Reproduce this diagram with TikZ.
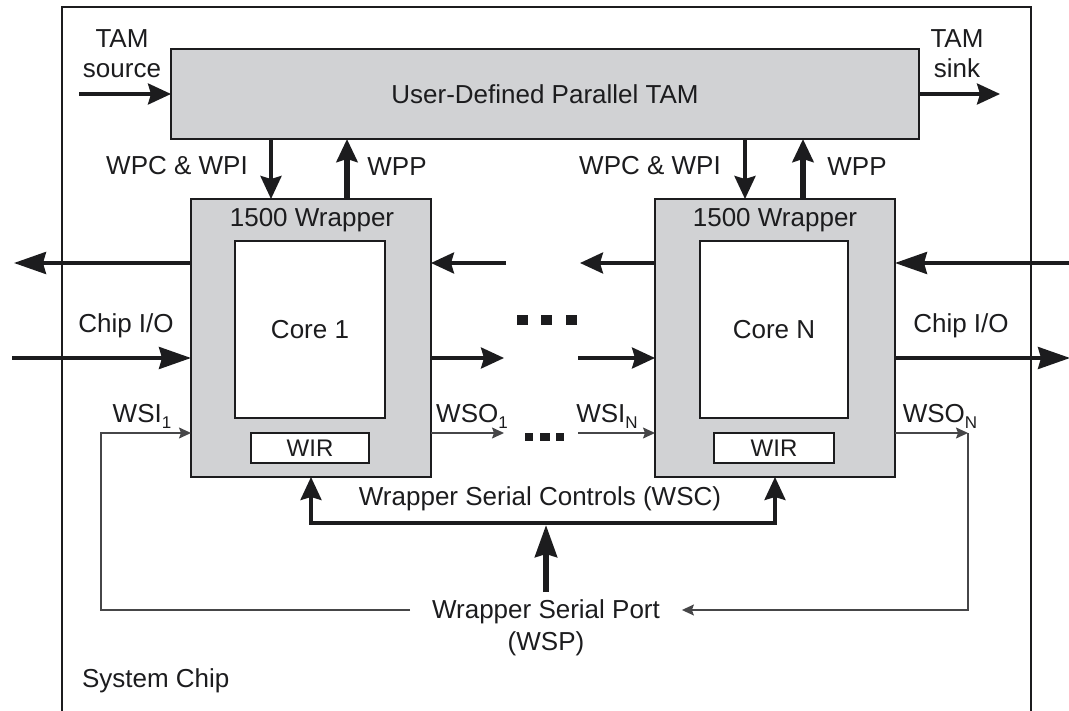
\documentclass[tikz,border=0pt]{standalone}
\usepackage{fontspec}
\setmainfont{Liberation Sans}
\usetikzlibrary{arrows.meta}
\definecolor{wrapfill}{RGB}{209,210,212}
\definecolor{ink}{RGB}{28,28,30}
\definecolor{wire}{RGB}{70,70,72}
% lowered small index, as in WSI_1
\newcommand\lowsub[1]{\raisebox{-6.5pt}{\fontsize{17}{17}\selectfont #1}}

\begin{document}
\begin{tikzpicture}[x=1pt,y=-1pt,
  every node/.style={font=\fontsize{26}{30}\selectfont, text=ink, inner sep=0pt, outer sep=0pt},
  txt/.style={anchor=base},
  box/.style={draw=ink, line width=2pt},
  graybox/.style={box, fill=wrapfill},
  whitebox/.style={box, fill=white},
  medhead/.style={-{Stealth[length=23pt,width=21pt,inset=3pt]}},
  bighead/.style={-{Stealth[length=32pt,width=22pt,inset=3pt]}},
  bus/.style={draw=ink, line width=3.4pt, medhead},
  busbig/.style={draw=ink, line width=3.4pt, bighead},
  fatbus/.style={draw=ink, line width=5.5pt, medhead},
  serial/.style={draw=wire, line width=1.4pt, -{Stealth[length=12pt,width=11pt,inset=2pt]}},
  dotsq/.style={fill=ink}
]
\useasboundingbox (0,0) rectangle (1069,711);
\clip (0,0) rectangle (1069,711);

% system chip outline
\draw[ink, line width=1.8pt] (62,7) rectangle (1031,740);
\node[txt, anchor=base west] (sys) at (82,687) {System Chip};

% parallel TAM
\node[graybox, minimum width=748pt, minimum height=90pt] (tam) at (545,94) {User-Defined Parallel TAM};
\node[txt] (srcA) at (122,48) {TAM};
\node[txt] (srcB) at (122,78) {source};
\node[txt] (snkA) at (957,48) {TAM};
\node[txt] (snkB) at (957,78) {sink};
\coordinate (tamin) at (79,94);
\coordinate (tamout) at (1000,94);
\draw[bus] (tamin) -- (tam.west);
\draw[bus] (tam.east) -- (tamout);

% wrappers with cores and WIRs
\node[graybox, minimum width=240pt, minimum height=278pt] (w1) at (311,338) {};
\node[whitebox, minimum width=150pt, minimum height=177pt] (core1) at (310,329.5) {Core 1};
\node[whitebox, minimum width=118pt, minimum height=30pt, font=\fontsize{24}{28}\selectfont] (wir1) at (310,448) {WIR};
\node[txt] (wl1) at (312,227) {1500 Wrapper};

\node[graybox, minimum width=240pt, minimum height=278pt] (wN) at (775,338) {};
\node[whitebox, minimum width=148pt, minimum height=177pt] (coreN) at (774,329.5) {Core N};
\node[whitebox, minimum width=120pt, minimum height=30pt, font=\fontsize{24}{28}\selectfont] (wirN) at (774,448) {WIR};
\node[txt] (wlN) at (775,227) {1500 Wrapper};

% TAM <-> wrapper ports
\coordinate (d1) at (271,0);
\coordinate (u1) at (347,0);
\coordinate (dN) at (745,0);
\coordinate (uN) at (803,0);
\draw[draw=ink, line width=3.6pt, medhead] (d1 |- tam.south) -- (d1 |- w1.north);
\draw[fatbus] (u1 |- w1.north) -- (u1 |- tam.south);
\draw[draw=ink, line width=3.6pt, medhead] (dN |- tam.south) -- (dN |- wN.north);
\draw[fatbus] (uN |- wN.north) -- (uN |- tam.south);
\node[txt] (wpc1) at (177,175) {WPC \& WPI};
\node[txt] (wpp1) at (397,176) {WPP};
\node[txt] (wpcN) at (650,175) {WPC \& WPI};
\node[txt] (wppN) at (857,176) {WPP};

% functional rows
\coordinate (r1) at (0,263);
\coordinate (r2) at (0,358);
\coordinate (r3) at (0,433);
\coordinate (lout) at (14,263);
\coordinate (m1a) at (506,263);
\coordinate (mNa) at (580,263);
\coordinate (rin) at (1080,263);
\coordinate (lin) at (12,358);
\coordinate (m1b) at (504,358);
\coordinate (mNb) at (578,358);
\coordinate (rout) at (1070,358);
\draw[busbig] (w1.west |- r1) -- (lout);
\draw[bus] (m1a) -- (w1.east |- r1);
\draw[bus] (wN.west |- r1) -- (mNa);
\draw[busbig] (rin) -- (wN.east |- r1);
\draw[busbig] (lin) -- (w1.west |- r2);
\draw[bus] (w1.east |- r2) -- (m1b);
\draw[bus] (mNb) -- (wN.west |- r2);
\draw[busbig] (wN.east |- r2) -- (rout);
\node[txt] (cio1) at (126,333) {Chip I/O};
\node[txt] (cioN) at (961,333) {Chip I/O};

% ellipsis between the wrappers
\fill[dotsq] (516.5,315) rectangle ++(11,10);
\fill[dotsq] (540.5,315) rectangle ++(11,10);
\fill[dotsq] (565.5,315) rectangle ++(11,10);
\fill[dotsq] (524.5,433) rectangle ++(8,8);
\fill[dotsq] (540,433) rectangle ++(10,8);
\fill[dotsq] (556,433) rectangle ++(8,8);

% serial port
\node[txt, inner xsep=22pt] (wsp) at (546,618) {Wrapper Serial Port};
\node[txt] (wspb) at (546,650) {(WSP)};
\coordinate (wsiL) at (101,610);
\coordinate (wsoR) at (968,433);
\coordinate (m1c) at (504,433);
\coordinate (mNc) at (578,433);
\draw[serial] (wsp.west |- wsiL) -- (wsiL) -- (wsiL |- r3) -- (w1.west |- r3);
\draw[serial] (w1.east |- r3) -- (m1c);
\draw[serial] (mNc) -- (wN.west |- r3);
\draw[serial] (wN.east |- r3) -- (wsoR);
\draw[serial] (wsoR) -- (wsoR |- wsiL) -- (wsp.east |- wsiL);
\node[txt] (wsi1) at (142,422) {WSI\lowsub{1}};
\node[txt] (wso1) at (472,422) {WSO\lowsub{1}};
\node[txt] (wsiN) at (607,422) {WSI\lowsub{N}};
\node[txt] (wsoN) at (940,422) {WSO\lowsub{N}};

% wrapper serial controls
\draw[draw=ink, line width=3.4pt, {Stealth[length=23pt,width=21pt,inset=3pt]}-{Stealth[length=23pt,width=21pt,inset=3pt]}]
  (w1.south) -- ++(0,46) -| (wN.south);
\coordinate (wscfeed) at (546,592);
\coordinate (wscbus) at (546,525);
\draw[draw=ink, line width=5.5pt, bighead] (wscfeed) -- (wscbus);
\node[txt] (wsc) at (540,505) {Wrapper Serial Controls (WSC)};
\end{tikzpicture}
\end{document}
